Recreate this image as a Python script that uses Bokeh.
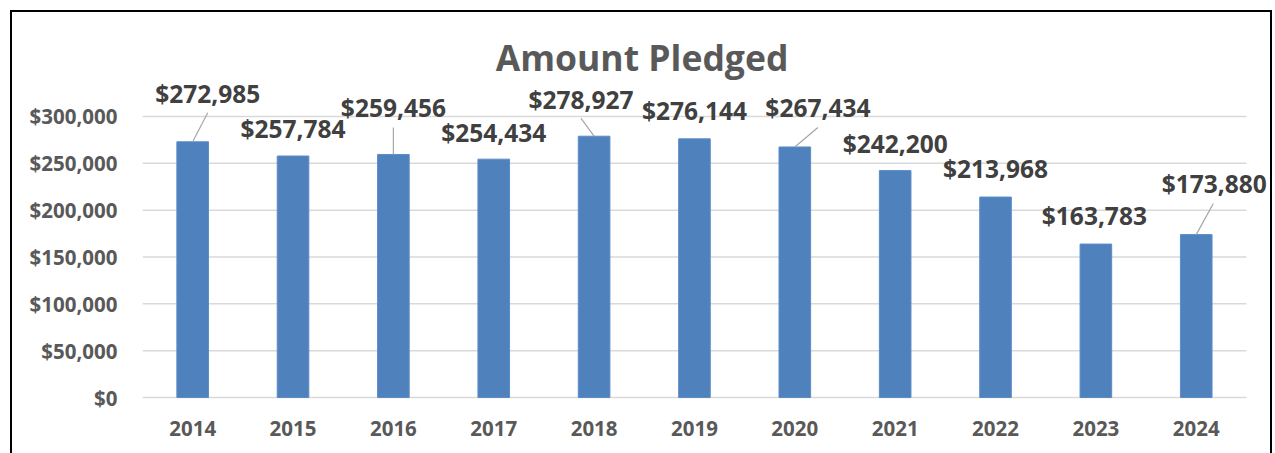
from bokeh.plotting import figure
from bokeh.models import Range1d, FixedTicker, ColumnDataSource, Label
from bokeh.core.properties import value
from bokeh.embed import file_html
from bokeh.resources import INLINE

# ---- data ----
years = ["2014", "2015", "2016", "2017", "2018", "2019", "2020", "2021", "2022", "2023", "2024"]
pledged = [272985, 257784, 259456, 254434, 278927, 276144, 267434, 242200, 213968, 163783, 173880]
value_labels = ["$272,985", "$257,784", "$259,456", "$254,434", "$278,927", "$276,144",
                "$267,434", "$242,200", "$213,968", "$163,783", "$173,880"]
y_ticks = [0, 50000, 100000, 150000, 200000, 250000, 300000]
y_tick_labels = ["$0", "$50,000", "$100,000", "$150,000", "$200,000", "$250,000", "$300,000"]
title_text = "Amount Pledged"

# label placement (offsets from bar top, in category / value units)
label_dx = [0.15, 0.0, 0.0, 0.0, -0.13, 0.0, 0.23, 0.0, 0.0, -0.015, 0.18]
label_dy = [51200, 29400, 50200, 28800, 39500, 29900, 42200, 28800, 30500, 30500, 54400]
# leader lines: which labels have one and where it ends
leader_idx = [0, 2, 4, 6, 10]
leader_dx = [0.15, 0.0, -0.13, 0.23, 0.17]
leader_dy = [31000, 28800, 19000, 20800, 33200]

FONT = "Open Sans"
idx = list(range(len(years)))
n = len(years)

p = figure(width=1258, height=441, output_backend="svg", toolbar_location=None,
           x_range=Range1d(-0.5, n - 0.26), y_range=Range1d(-2135, 411000),
           min_border_left=130, min_border_right=0, min_border_bottom=54, min_border_top=0)
p.styles = {"margin-left": "12px", "margin-top": "12px", "outline": "2px solid black"}
p.outline_line_color = None
p.background_fill_color = "white"
p.border_fill_color = "white"

# horizontal gridlines spanning the category area
p.segment(x0=[-0.5] * len(y_ticks), x1=[n - 0.5] * len(y_ticks), y0=y_ticks, y1=y_ticks,
          line_color="#D9D9D9", line_width=1.5)

src = ColumnDataSource(dict(x=idx, top=pledged))
p.vbar(x="x", top="top", bottom=0, width=0.315, source=src,
       fill_color="#4F81BD", line_color="#5B8CC8", line_width=1)

# leader lines
p.segment(x0=[idx[i] for i in leader_idx],
          y0=[pledged[i] for i in leader_idx],
          x1=[idx[i] + d for i, d in zip(leader_idx, leader_dx)],
          y1=[pledged[i] + d for i, d in zip(leader_idx, leader_dy)],
          line_color="#A6A6A6", line_width=1.2)

lab_src = ColumnDataSource(dict(
    x=[i + d for i, d in zip(idx, label_dx)],
    y=[v + d for v, d in zip(pledged, label_dy)],
    t=value_labels))
p.text(x="x", y="y", text="t", source=lab_src, text_font=value(FONT),
       text_font_style="bold", text_font_size="24.5px", text_color="#404040",
       text_align="center", text_baseline="middle")

p.add_layout(Label(x=499.5, y=343, x_units="screen", y_units="screen", text=title_text,
                   text_font=FONT, text_font_style="bold", text_font_size="35.5px",
                   text_color="#595959", text_align="center", text_baseline="alphabetic"))

# axes
p.xaxis.ticker = FixedTicker(ticks=idx)
p.xaxis.major_label_overrides = {i: y for i, y in zip(idx, years)}
p.yaxis.ticker = FixedTicker(ticks=y_ticks)
p.yaxis.major_label_overrides = {t: l for t, l in zip(y_ticks, y_tick_labels)}
for ax in (p.xaxis, p.yaxis):
    ax.axis_line_color = None
    ax.major_tick_line_color = None
    ax.minor_tick_line_color = None
    ax.major_label_text_font = FONT
    ax.major_label_text_font_style = "bold"
    ax.major_label_text_font_size = "20.5px"
    ax.major_label_text_color = "#595959"
p.yaxis.major_label_standoff = 19
p.xaxis.major_label_standoff = 15

p.xgrid.grid_line_color = None
p.ygrid.grid_line_color = None

open("out.html", "w").write(file_html(p, INLINE))
